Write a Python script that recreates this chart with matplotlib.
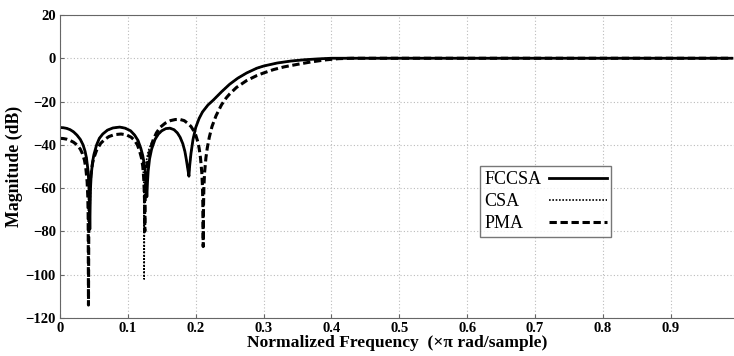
import matplotlib
matplotlib.use("Agg")
import matplotlib.pyplot as plt

# values (freq in x pi rad/sample, magnitude in dB)
fccsa_f = [0, 0.005, 0.01, 0.015, 0.02, 0.025, 0.03, 0.034, 0.037, 0.039, 0.041,
           0.042, 0.043, 0.0435, 0.044, 0.0445, 0.045, 0.046, 0.048, 0.05, 0.054,
           0.058, 0.063, 0.07, 0.078, 0.088, 0.096, 0.104, 0.11, 0.115, 0.119,
           0.122, 0.124, 0.126, 0.127, 0.128, 0.129, 0.13, 0.132, 0.135, 0.14,
           0.145, 0.15, 0.156, 0.162, 0.168, 0.173, 0.177, 0.181, 0.184, 0.186,
           0.188, 0.19, 0.191, 0.193, 0.196, 0.2, 0.205, 0.21, 0.218, 0.226,
           0.238, 0.25, 0.262, 0.275, 0.29, 0.3, 0.32, 0.34, 0.36, 0.38, 0.4,
           0.5, 0.6, 0.7, 0.8, 0.9, 0.99]
fccsa_db = [-32, -32.1, -32.4, -33, -34, -35.5, -37.5, -40, -43, -46, -51,
            -55, -62, -70, -79, -68, -60, -54, -48, -44.5, -40,
            -37, -35, -33.2, -32.2, -31.8, -32.3, -33.5, -35.5, -38, -41.5,
            -45, -48.5, -53, -57, -64, -57, -52, -46.5, -42, -37.5,
            -35, -33.5, -32.5, -32.3, -33, -34.5, -36.5, -39.5, -43, -46.5,
            -50.5, -54.5, -50, -44, -37.5, -32, -27.8, -24.8, -21.6, -19.3,
            -15.5, -12, -9.2, -6.8, -4.6, -3.6, -2.2, -1.3, -0.7, -0.3, 0,
            0, 0, 0, 0, 0, 0]

csa_f = [0, 0.005, 0.01, 0.015, 0.02, 0.025, 0.03, 0.034, 0.037, 0.039, 0.041,
         0.042, 0.043, 0.0435, 0.044, 0.0445, 0.045, 0.046, 0.048, 0.05, 0.054,
         0.058, 0.063, 0.07, 0.078, 0.088, 0.096, 0.104, 0.11, 0.115, 0.119,
         0.121, 0.1225, 0.1235, 0.124, 0.1245, 0.125, 0.127, 0.13, 0.135, 0.14,
         0.145, 0.15, 0.156, 0.162, 0.168, 0.173, 0.177, 0.181, 0.184, 0.186,
         0.188, 0.19, 0.191, 0.193, 0.196, 0.2, 0.205, 0.21, 0.218, 0.226,
         0.238, 0.25, 0.262, 0.275, 0.29, 0.3, 0.32, 0.34, 0.36, 0.38, 0.4,
         0.5, 0.6, 0.7, 0.8, 0.9, 0.99]
csa_db = [-32, -32.1, -32.4, -33, -34, -35.5, -37.5, -40, -43, -46, -51,
          -55, -62, -70, -78, -68, -60, -54, -48, -44.5, -40,
          -37, -35, -33.2, -32.2, -31.8, -32.3, -33.5, -35.5, -38, -41.5,
          -45, -50, -57, -102, -62, -55, -48, -43, -39, -37.5,
          -35, -33.5, -32.5, -32.3, -33, -34.5, -36.5, -39.5, -43, -46.5,
          -50.5, -54, -50, -44, -37.5, -32, -27.8, -24.8, -21.6, -19.3,
          -15.5, -12, -9.2, -6.8, -4.6, -3.6, -2.2, -1.3, -0.7, -0.3, 0,
          0, 0, 0, 0, 0, 0]

pma_f = [0, 0.005, 0.01, 0.015, 0.02, 0.025, 0.03, 0.033, 0.036, 0.038, 0.04,
         0.041, 0.0415, 0.042, 0.0425, 0.043, 0.044, 0.046, 0.048, 0.05, 0.054,
         0.06, 0.066, 0.072, 0.08, 0.09, 0.098, 0.105, 0.11, 0.114, 0.117,
         0.12, 0.122, 0.1235, 0.1245, 0.125, 0.1255, 0.1265, 0.128, 0.13, 0.133,
         0.137, 0.142, 0.148, 0.155, 0.163, 0.17, 0.177, 0.183, 0.188, 0.193,
         0.197, 0.2, 0.203, 0.205, 0.207, 0.209, 0.21, 0.2105, 0.211, 0.2115,
         0.212, 0.213, 0.215, 0.217, 0.22, 0.224, 0.23, 0.238, 0.245, 0.25,
         0.26, 0.275, 0.29, 0.3, 0.315, 0.33, 0.35, 0.37, 0.39, 0.41, 0.43,
         0.5, 0.6, 0.7, 0.8, 0.9, 0.99]
pma_db = [-37, -37.1, -37.4, -38, -38.8, -40, -42, -44, -47, -50.5, -57,
          -64, -72, -114, -76, -66, -59, -52.5, -48.5, -46, -42.5,
          -39.3, -37.5, -36.2, -35.3, -35, -35.4, -36.5, -38, -40, -42.5,
          -46, -50, -56, -65, -80, -66, -57, -51, -46.5, -42,
          -38, -34.5, -31.8, -30, -28.8, -28.3, -28.3, -28.8, -30, -31.5,
          -33.5, -35.5, -38.5, -41.5, -46, -53, -60, -68, -87, -68,
          -60, -53, -46, -41.5, -36.5, -31.5, -26.5, -21.5, -18.3, -16.5,
          -13.5, -10.3, -8, -6.8, -5.2, -4, -2.8, -1.7, -0.8, -0.2, 0,
          0, 0, 0, 0, 0, 0]

xticks = [0, 0.1, 0.2, 0.3, 0.4, 0.5, 0.6, 0.7, 0.8, 0.9]
xticklabels = ["0", "0.1", "0.2", "0.3", "0.4", "0.5", "0.6", "0.7", "0.8", "0.9"]
yticks = [-120, -100, -80, -60, -40, -20, 0, 20]

plt.rcParams['font.family'] = ['Liberation Serif', 'DejaVu Serif']

fig = plt.figure(figsize=(7.34, 3.56), dpi=100)
ax = fig.add_axes([0.0817, 0.1067, 0.9183, 0.8513])

ax.plot(fccsa_f, fccsa_db, color='black', lw=2.0, ls='-', label='FCCSA')
ax.plot(csa_f, csa_db, color='black', lw=1.2, ls=(0, (1, 1)), label='CSA')
ax.plot(pma_f, pma_db, color='black', lw=2.2, ls=(0, (2.4, 1.2)), label='PMA')

ax.set_xlim(0, 0.993)
ax.set_ylim(-120, 20)
ax.set_xticks(xticks)
ax.set_xticklabels(xticklabels)
ax.set_yticks(yticks)

ax.grid(True, color='#bbbbbb', ls=(0, (1, 2)), lw=0.8)
for s in ax.spines.values():
    s.set_color('#666666')
ax.spines['right'].set_visible(False)
ax.tick_params(direction='in', length=3, color='#666666', labelsize=10.5, pad=3)
for lab in ax.get_xticklabels() + ax.get_yticklabels():
    lab.set_fontweight('bold')

ax.set_xlabel('Normalized Frequency  (\u00d7\u03c0 rad/sample)', fontsize=12.6,
              fontweight='bold', labelpad=0)
ax.set_ylabel('Magnitude (dB)', fontsize=12.8, fontweight='bold', labelpad=2)

leg_fs = 13
leg_pad = 0.4
leg = ax.legend(loc='upper left', bbox_to_anchor=(0.623, 0.50), markerfirst=False,
                fontsize=leg_fs, frameon=True, fancybox=False, handlelength=3.2,
                borderpad=0.25, labelspacing=0.28, handletextpad=leg_pad,
                borderaxespad=0)
leg.get_frame().set_edgecolor('#555555')
leg.get_frame().set_linewidth(1.0)

# labels left-aligned, line samples lined up in one column on the right
renderer = fig.canvas.get_renderer()
widths = [t.get_window_extent(renderer).width for t in leg.get_texts()]
wmax = max(widths)
for col in leg._legend_handle_box.get_children():
    col.align = 'left'
    for item, w in zip(col.get_children(), widths):
        item.sep = leg_pad * leg_fs + (wmax - w) * 72.0 / fig.dpi

fig.savefig('out.png', dpi=100)
